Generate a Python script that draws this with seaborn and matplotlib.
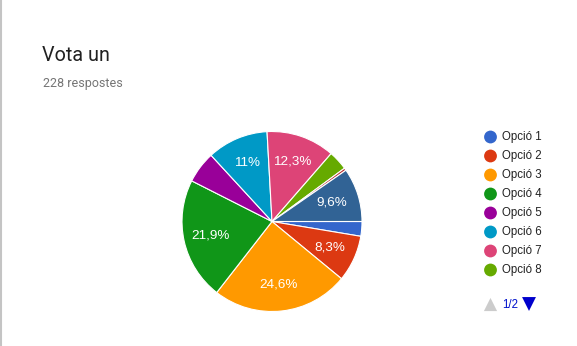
import matplotlib
matplotlib.use("Agg")
import matplotlib.pyplot as plt
import seaborn as sns

# ---- data ----
options = ["Opció 1", "Opció 2", "Opció 3", "Opció 4", "Opció 5",
           "Opció 6", "Opció 7", "Opció 8", "Opció 9", "Opció 10"]
votes = [6, 19, 56, 50, 13, 25, 28, 8, 1, 22]
colors = ["#3366cc", "#dc3912", "#ff9900", "#109618", "#990099",
          "#0099c6", "#dd4477", "#66aa00", "#b82e2e", "#316395"]
title = "Vota un"
subtitle = "228 respostes"
legend_page = "1/2"
legend_visible = 8

sns.set_theme(style="white")
plt.rcParams["font.family"] = ["Liberation Sans", "DejaVu Sans"]

W, H = 577, 346
fig = plt.figure(figsize=(W / 100, H / 100), dpi=100)
fig.patch.set_facecolor("white")

# pie axes
cx, cy, r = 272, 221.5, 90
ax = fig.add_axes([(cx - r) / W, 1 - (cy + r) / H, 2 * r / W, 2 * r / H])


def fmt(p):
    if p < 7.5:
        return ""
    s = f"{p:.1f}".replace(".", ",")
    if s.endswith(",0"):
        s = s[:-2]
    return s + "%"


wedges, texts, autotexts = ax.pie(
    votes, colors=colors, startangle=0, counterclock=False,
    autopct=fmt, pctdistance=0.7,
    wedgeprops=dict(edgecolor="white", linewidth=0.8),
    textprops=dict(color="white", fontsize=9.7, family=["Liberation Sans", "DejaVu Sans"]),
    radius=1.0,
)
ax.set_xlim(-1, 1)
ax.set_ylim(-1, 1)
ax.set_aspect("equal")
ax.axis("off")

# overlay axes in pixel coordinates
ov = fig.add_axes([0, 0, 1, 1], zorder=5)
ov.set_xlim(0, W)
ov.set_ylim(H, 0)
ov.axis("off")
ov.patch.set_alpha(0)

# left border
ov.plot([0.5, 0.5], [0, H], color="#c4c4c4", lw=1.5, solid_capstyle="butt")

ov.text(42, 61, title, fontsize=14.2, color="#212121",
        family=["Roboto", "DejaVu Sans"], va="baseline", ha="left")
ov.text(43, 87.5, subtitle, fontsize=9.0, color="#757575",
        family=["Roboto", "DejaVu Sans"], va="baseline", ha="left")

# legend
y0, dy = 137, 19
for i in range(legend_visible):
    y = y0 + i * dy
    ov.scatter([490.5], [y], s=85, color=colors[i], edgecolors="none")
    ov.text(502, y, options[i], fontsize=8.3, color="#222222",
            va="center", ha="left")

ov.scatter([490.5], [304.5], marker="^", s=90, color="#cccccc", edgecolors="none")
ov.text(502, 304.5, legend_page, fontsize=8.3, color="#0011cc",
        va="center", ha="left")
ov.scatter([529], [304], marker="v", s=100, color="#0000cc", edgecolors="none")

fig.savefig("out.png", dpi=100, facecolor="white")
